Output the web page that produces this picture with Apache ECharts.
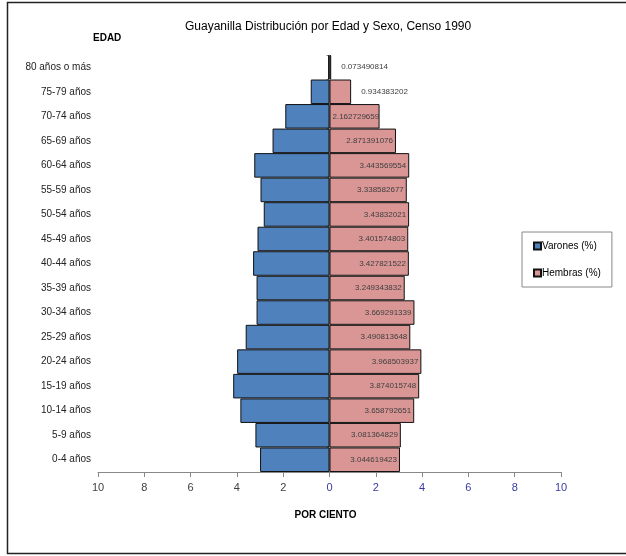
<!DOCTYPE html>
<html>
<head>
<meta charset="utf-8">
<script src="https://cdn.jsdelivr.net/npm/echarts@6/dist/echarts.min.js"></script>
<style>html,body{margin:0;padding:0;background:#fff}#c{width:626px;height:556px}</style>
</head>
<body>
<div id="c"></div>
<script>
const categories = ['80 años o más','75-79 años','70-74 años','65-69 años','60-64 años','55-59 años','50-54 años','45-49 años','40-44 años','35-39 años','30-34 años','25-29 años','20-24 años','15-19 años','10-14 años','5-9 años','0-4 años'];
const varones = [0.06, 0.81, 1.91, 2.46, 3.25, 2.98, 2.84, 3.11, 3.30, 3.15, 3.15, 3.62, 3.99, 4.16, 3.85, 3.20, 3.00];
const hembras = [0.073490814, 0.934383202, 2.162729659, 2.871391076, 3.443569554, 3.338582677, 3.43832021, 3.401574803, 3.427821522, 3.249343832, 3.669291339, 3.490813648, 3.968503937, 3.874015748, 3.658792651, 3.081364829, 3.044619423];
const xTicks = [-10, -8, -6, -4, -2, 0, 2, 4, 6, 8, 10];

const cats = categories.slice().reverse();
const vData = varones.slice().reverse().map(v => -v);
const hData = hembras.slice().reverse().map(v => ({
  value: v,
  label: { position: v < 1.5 ? 'right' : (v < 2.5 ? 'insideLeft' : 'insideRight'), distance: v < 1.5 ? 10 : 3 }
}));

const chart = echarts.init(document.getElementById('c'), null, {renderer: 'canvas'});
chart.setOption({
  animation: false,
  backgroundColor: '#fff',
  textStyle: { fontFamily: 'Liberation Sans, Arial, sans-serif' },
  title: {
    text: 'Guayanilla Distribución por Edad y Sexo, Censo 1990',
    left: 180, top: 16,
    textStyle: { fontSize: 12, fontWeight: 'normal', color: '#000', fontFamily: 'Liberation Sans, Arial, sans-serif' }
  },
  legend: {
    orient: 'vertical',
    left: 522, top: 232,
    padding: [9, 11, 9, 11],
    itemGap: 17,
    itemWidth: 7, itemHeight: 7,
    icon: 'rect',
    borderColor: '#888', borderWidth: 1,
    textStyle: { fontSize: 10, color: '#000', padding: [0, 0, 0, -4] },
    data: ['Varones (%)', 'Hembras (%)']
  },
  grid: { left: 98, right: 65, top: 55, bottom: 84, containLabel: false },
  xAxis: {
    type: 'value', min: -10, max: 10, interval: 2,
    axisLine: { show: true, lineStyle: { color: '#888' } },
    axisTick: { show: true, length: 5, inside: false, lineStyle: { color: '#888' } },
    splitLine: { show: false },
    axisLabel: {
      fontSize: 11, margin: 10,
      formatter: v => String(Math.abs(v)),
      color: v => (v >= 0 ? '#3a3aa0' : '#404040')
    },
    name: 'POR CIENTO', nameLocation: 'middle', nameGap: 38,
    nameTextStyle: { fontSize: 10, fontWeight: 'bold', color: '#000', padding: [0, 8, 0, 0] }
  },
  yAxis: {
    type: 'category', data: cats,
    axisLine: { show: true, lineStyle: { color: '#aaa' } },
    axisTick: { show: true, length: 3, lineStyle: { color: '#888' } },
    axisLabel: { fontSize: 10, color: '#222', margin: 7 }
  },
  series: [
    {
      name: 'Varones (%)', type: 'bar', stack: 'p', data: vData,
      barCategoryGap: '0%',
      itemStyle: { color: '#4f81bd', borderColor: '#111', borderWidth: 1 },
      label: { show: false }
    },
    {
      name: 'Hembras (%)', type: 'bar', stack: 'p', data: hData,
      barCategoryGap: '0%',
      itemStyle: { color: '#d99694', borderColor: '#111', borderWidth: 1 },
      label: { show: true, fontSize: 8, color: '#404040', formatter: p => String(p.value) }
    }
  ],
  graphic: [
    { type: 'rect', shape: { x: 7.5, y: 2.5, width: 640, height: 551 }, style: { fill: 'none', stroke: '#222', lineWidth: 1.5 }, silent: true },
    { type: 'text', left: 93, top: 33, style: { text: 'EDAD', fontSize: 10, fontWeight: 'bold', fill: '#000', fontFamily: 'Liberation Sans, Arial, sans-serif' }, silent: true }
  ]
});
</script>
</body>
</html>
